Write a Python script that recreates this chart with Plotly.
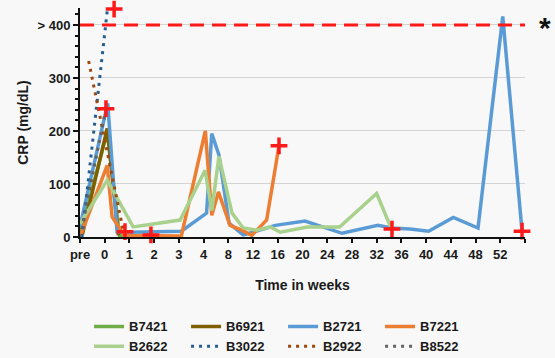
import plotly.graph_objects as go

# Category axis labels (position index 0..18)
categories = ["pre", "0", "1", "2", "3", "4", "8", "12", "16", "20", "24",
              "28", "32", "36", "40", "44", "48", "52", ""]

# Series: x = position along category axis, y = CRP (mg/dL)
B7421_x = [0, 1.1, 1.6, 2.87]
B7421_y = [3, 198, 3, 3]

B6921_x = [0.1, 1.1, 1.55]
B6921_y = [5, 205, 3]

B2721_x = [0, 1.12, 1.5, 2.0, 4.1, 5.12, 5.33, 5.62, 6.03, 6.6, 7.0, 7.3, 7.9,
           9.1, 10.6, 12.05, 12.6, 13.35, 14.1, 15.1, 16.1, 17.1, 17.88]
B2721_y = [20, 252, 10, 9, 11, 45, 195, 155, 26, 4, 9, 13, 22,
           30, 7, 22, 17, 15, 11, 37, 17, 416, 11]

B7221_x = [0, 1.1, 1.3, 1.58, 1.8, 4.1, 5.07, 5.33, 5.6, 6.07, 6.5, 6.95, 7.55, 8.05]
B7221_y = [0, 135, 38, 19, 3, 2, 200, 41, 85, 22, 14, 3, 32, 172]

B2622_x = [0, 1.1, 2.15, 4.05, 5.06, 5.33, 5.62, 6.15, 6.6, 7.15, 7.7, 8.1,
           9.2, 10.5, 12.0, 12.6]
B2622_y = [25, 107, 19, 32, 126, 50, 152, 45, 17, 13, 19, 9,
           19, 19, 82, 15]

B3022_x = [0.08, 1.1]
B3022_y = [0, 426]

B2922_x = [0.35, 1.75]
B2922_y = [332, 12]

B8522_x = [0.0, 1.05]
B8522_y = [0, 242]

# End-of-follow-up markers (red crosses)
cross_x = [1.38, 1.05, 1.82, 2.87, 8.05, 12.62, 17.88]
cross_y = [430, 242, 10, 4, 172, 15, 11]

threshold = 400

series = [
    ("B7421", B7421_x, B7421_y, "#70AD47", "solid"),
    ("B6921", B6921_x, B6921_y, "#7F6000", "solid"),
    ("B2721", B2721_x, B2721_y, "#5B9BD5", "solid"),
    ("B7221", B7221_x, B7221_y, "#ED7D31", "solid"),
    ("B2622", B2622_x, B2622_y, "#A9D18E", "solid"),
    ("B3022", B3022_x, B3022_y, "#255E91", "3px,5px"),
    ("B2922", B2922_x, B2922_y, "#9E480E", "3px,5px"),
    ("B8522", B8522_x, B8522_y, "#636363", "3px,5px"),
]

fig = go.Figure()
for name, xs, ys, color, dash in series:
    fig.add_trace(go.Scatter(
        x=xs, y=ys, mode="lines", name=name,
        line=dict(color=color, width=3.5 if dash == "solid" else 3, dash=dash),
        cliponaxis=False,
    ))

fig.add_trace(go.Scatter(
    x=cross_x, y=cross_y, mode="markers", showlegend=False,
    marker=dict(symbol="cross-thin", size=12, line=dict(color="#FF1A1A", width=3.5)),
    cliponaxis=False, hoverinfo="skip",
))

fig.add_shape(type="line", xref="x", yref="y", x0=0, x1=18.1, y0=threshold, y1=threshold,
              line=dict(color="#FF1A1A", width=3, dash="14px,8px"), layer="above")

bold = "Liberation Sans, Arial, sans-serif"

fig.update_layout(
    width=555, height=358,
    margin=dict(l=80, r=30, t=8, b=121),
    paper_bgcolor="#F8F8F8", plot_bgcolor="#F8F8F8",
    font=dict(family=bold, size=12, color="#1A1A1A"),
    showlegend=True,
    legend=dict(
        orientation="h", xref="container", yref="container",
        x=0.51, xanchor="center", y=0.13, yanchor="top",
        entrywidth=52, font=dict(size=13, family=bold, weight="bold"),
        bgcolor="rgba(0,0,0,0)", traceorder="normal",
    ),
    xaxis=dict(
        range=[0, 18], tickmode="array",
        tickvals=list(range(len(categories))),
        ticktext=["<b>%s</b>" % c if c else "" for c in categories],
        showgrid=False, zeroline=False,
        showline=True, linecolor="#111111", linewidth=2,
        ticks="outside", ticklen=4, tickwidth=1.5, tickcolor="#111111",
        tickfont=dict(size=13),
        title=dict(text="<b>Time in weeks</b>", font=dict(size=14), standoff=20),
    ),
    yaxis=dict(
        range=[0, 432], tickmode="array",
        tickvals=[0, 100, 200, 300, 400],
        ticktext=["<b>0</b>", "<b>100</b>", "<b>200</b>", "<b>300</b>", "<b>> 400</b>"],
        showgrid=True, gridcolor="#D4D4D4", gridwidth=1, zeroline=False,
        showline=True, linecolor="#111111", linewidth=2,
        ticks="outside", ticklen=5, tickwidth=1.5, tickcolor="#111111",
        minor=dict(dtick=20, ticks="outside", ticklen=3, tickcolor="#111111", showgrid=False),
        tickfont=dict(size=13),
        title=dict(text="<b>CRP (mg/dL)</b>", font=dict(size=14), standoff=6),
    ),
)

fig.add_annotation(text="<b>*</b>", xref="paper", yref="y", x=1.045, y=threshold - 5,
                   showarrow=False, font=dict(size=30, color="#111111"), xanchor="center")

fig.write_html("out.html")
